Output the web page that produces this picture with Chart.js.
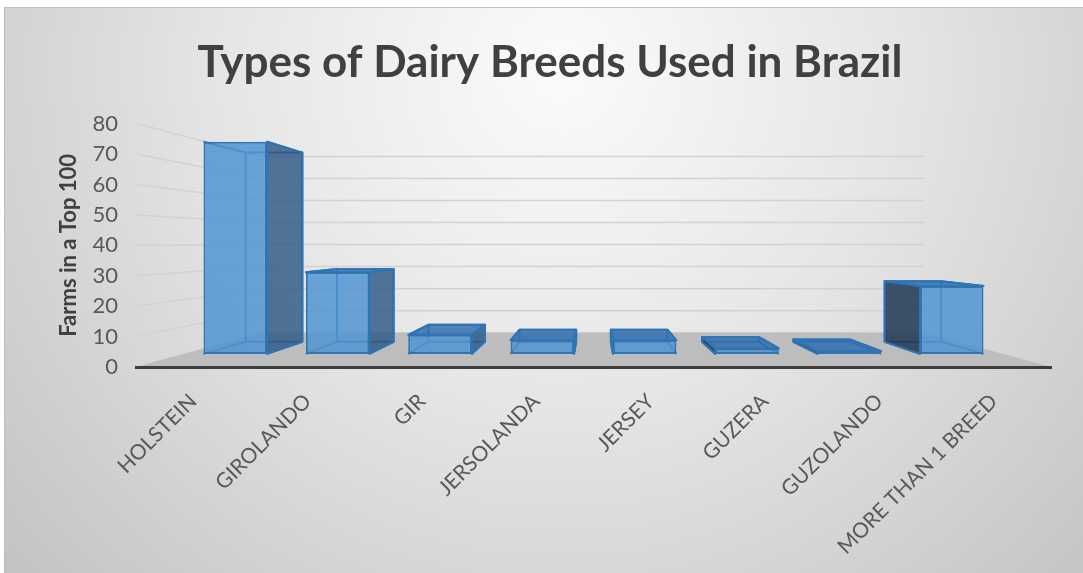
<!DOCTYPE html>
<html>
<head>
<meta charset="utf-8">
<title>Types of Dairy Breeds Used in Brazil</title>
<script src="https://cdn.jsdelivr.net/npm/chart.js@4.4.1/dist/chart.umd.min.js"></script>
<style>
  html, body { margin: 0; padding: 0; background: #fff; }
  canvas { display: block; }
</style>
</head>
<body>
<canvas id="breedChart" width="1083" height="573"></canvas>
<script>
// chart data
const breeds = ['HOLSTEIN', 'GIROLANDO', 'GIR', 'JERSOLANDA', 'JERSEY', 'GUZERA', 'GUZOLANDO', 'MORE THAN 1 BREED'];
const farms = [78, 30, 7, 5, 5, 2, 1, 25];
const yTicks = [0, 10, 20, 30, 40, 50, 60, 70, 80];

// fake 3D view: depth factors relative to the front plane (the labelled axes)
const VIEW = { front: 0.895, back: 0.798, wall: 0.725, horizon: 41 };

const COLORS = {
  front: 'rgba(80,148,210,0.85)',
  right: 'rgba(46,88,132,0.82)',
  left: 'rgba(30,55,82,0.85)',
  top: 'rgba(50,110,175,0.85)',
  edge: '#2e75b6',
  floor: '#bdbdbd',
  grid: '#d2d2d2',
  text: '#595959',
  title: '#404040'
};

Chart.defaults.font.family = 'Lato';

const yMin = yTicks[0];
const yMax = yTicks[yTicks.length - 1];
const n = breeds.length;

// hidden scales for the bars: the front plane pushed back by VIEW.front
const xbMin = (n - 1) / 2 - (n / 2) / VIEW.front;
const xbMax = xbMin + n / VIEW.front;
const ybMin = yMin - (VIEW.horizon - yMin) * (1 - VIEW.front) / VIEW.front;
const ybMax = ybMin + (yMax - yMin) / VIEW.front;

function vanishing(chart) {
  const a = chart.chartArea;
  return { x: (a.left + a.right) / 2, y: chart.scales.y.getPixelForValue(VIEW.horizon) };
}

function project(p, vp, k) {
  return { x: vp.x + (p.x - vp.x) * k, y: vp.y + (p.y - vp.y) * k };
}

function poly(ctx, pts) {
  ctx.beginPath();
  ctx.moveTo(pts[0].x, pts[0].y);
  for (let i = 1; i < pts.length; i++) ctx.lineTo(pts[i].x, pts[i].y);
  ctx.closePath();
}

function line(ctx, a, b) {
  ctx.beginPath();
  ctx.moveTo(a.x, a.y);
  ctx.lineTo(b.x, b.y);
  ctx.stroke();
}

/* background, back walls and floor */
const scenePlugin = {
  id: 'scene',
  beforeDraw(chart) {
    const { ctx, width, height, chartArea: a } = chart;
    const y = chart.scales.y;
    const vp = vanishing(chart);
    ctx.save();
    ctx.fillStyle = '#fff';
    ctx.fillRect(0, 0, width, height);
    const g = ctx.createRadialGradient(560, 70, 0, 560, 70, 760);
    g.addColorStop(0, '#fbfbfb');
    g.addColorStop(0.45, '#e5e5e5');
    g.addColorStop(1, '#c2c2c2');
    ctx.fillStyle = g;
    ctx.fillRect(4, 7, width - 4, height - 7);
    ctx.strokeStyle = '#bfbfbf';
    ctx.lineWidth = 1;
    ctx.strokeRect(4.5, 7.5, width, height);

    // gridlines: left wall then back wall
    ctx.strokeStyle = COLORS.grid;
    ctx.lineWidth = 1.5;
    yTicks.forEach(t => {
      const py = y.getPixelForValue(t);
      const bl = project({ x: a.left, y: py }, vp, VIEW.wall);
      const br = project({ x: a.right, y: py }, vp, VIEW.wall);
      ctx.beginPath();
      ctx.moveTo(a.left + 1, py);
      ctx.lineTo(bl.x, bl.y);
      ctx.lineTo(br.x, br.y);
      ctx.stroke();
    });

    // floor
    const fl = { x: a.left, y: a.bottom };
    const fr = { x: a.right, y: a.bottom };
    poly(ctx, [fl, fr, project(fr, vp, VIEW.wall), project(fl, vp, VIEW.wall)]);
    ctx.fillStyle = COLORS.floor;
    ctx.fill();
    ctx.restore();
  }
};

/* depth of each bar: back edges and the visible side/top faces */
const boxPlugin = {
  id: 'box',
  beforeDatasetsDraw(chart) {
    const ctx = chart.ctx;
    const vp = vanishing(chart);
    const k = VIEW.back / VIEW.front;
    ctx.save();
    chart.getDatasetMeta(0).data.forEach(bar => {
      const { x, y, base, width } = bar.getProps(['x', 'y', 'base', 'width'], true);
      const f = { l: x - width / 2, r: x + width / 2, t: Math.min(y, base), b: Math.max(y, base) };
      const F = {
        tl: { x: f.l, y: f.t }, tr: { x: f.r, y: f.t },
        br: { x: f.r, y: f.b }, bl: { x: f.l, y: f.b }
      };
      const B = {};
      Object.keys(F).forEach(c => { B[c] = project(F[c], vp, k); });

      // back + connecting edges (mostly seen through the front face)
      ctx.strokeStyle = COLORS.edge;
      ctx.lineWidth = 2;
      ctx.lineJoin = 'round';
      poly(ctx, [B.tl, B.tr, B.br, B.bl]);
      ctx.stroke();
      Object.keys(F).forEach(c => line(ctx, F[c], B[c]));

      const faces = [];
      if (B.tr.x > f.r) faces.push({ pts: [F.tr, B.tr, B.br, F.br], fill: COLORS.right });
      if (B.tl.x < f.l) faces.push({ pts: [F.tl, B.tl, B.bl, F.bl], fill: COLORS.left });
      if (B.tl.y < f.t) faces.push({ pts: [F.tl, F.tr, B.tr, B.tl], fill: COLORS.top });
      faces.forEach(face => {
        poly(ctx, face.pts);
        ctx.fillStyle = face.fill;
        ctx.fill();
        ctx.stroke();
      });
    });
    ctx.restore();
  }
};

new Chart(document.getElementById('breedChart'), {
  type: 'bar',
  data: {
    labels: breeds,
    datasets: [{
      label: 'Farms in a Top 100',
      data: farms.map((v, i) => ({ x: i, y: v })),
      xAxisID: 'xb',
      yAxisID: 'yb',
      backgroundColor: COLORS.front,
      borderColor: COLORS.edge,
      borderWidth: 2,
      borderSkipped: false,
      barPercentage: 0.62,
      categoryPercentage: 1
    }]
  },
  options: {
    responsive: false,
    animation: false,
    events: [],
    layout: { padding: { left: 17, right: 0, top: 0, bottom: 0 } },
    plugins: {
      legend: { display: false },
      tooltip: { enabled: false },
      title: {
        display: true,
        text: 'Types of Dairy Breeds Used in Brazil',
        color: COLORS.title,
        font: { family: 'Lato', size: 44, weight: 'bold' },
        padding: { top: 36, bottom: 35 }
      }
    },
    scales: {
      x: {
        type: 'category',
        axis: 'x',
        position: 'bottom',
        offset: true,
        min: 0,
        max: n - 1,
        grid: { display: false, drawTicks: false },
        border: { display: true, color: '#3d3d3d', width: 3 },
        ticks: {
          color: COLORS.text,
          font: { size: 21 },
          minRotation: 45,
          maxRotation: 45,
          autoSkip: false,
          padding: 22
        },
        afterFit: s => { s.height = 206; }
      },
      y: {
        type: 'linear',
        axis: 'y',
        position: 'left',
        min: yMin,
        max: yMax,
        grid: { display: false, drawTicks: false },
        border: { display: false },
        ticks: {
          stepSize: yTicks[1] - yTicks[0],
          color: COLORS.text,
          font: { size: 22 },
          padding: 18
        },
        title: {
          display: true,
          text: 'Farms in a Top 100',
          color: COLORS.title,
          font: { size: 22, weight: 'bold' },
          padding: { top: 39, bottom: 0 }
        },
        afterFit: s => { s.width = 119; }
      },
      xb: {
        type: 'linear',
        axis: 'x',
        display: false,
        offset: false,
        min: xbMin,
        max: xbMax,
        afterBuildTicks: s => { s.ticks = breeds.map((_, i) => ({ value: i })); }
      },
      yb: {
        type: 'linear',
        axis: 'y',
        position: 'right',
        min: ybMin,
        max: ybMax,
        grid: { display: false, drawTicks: false },
        border: { display: false },
        ticks: { display: false },
        afterFit: s => { s.width = 32; }
      }
    }
  },
  plugins: [scenePlugin, boxPlugin]
});
</script>
</body>
</html>
